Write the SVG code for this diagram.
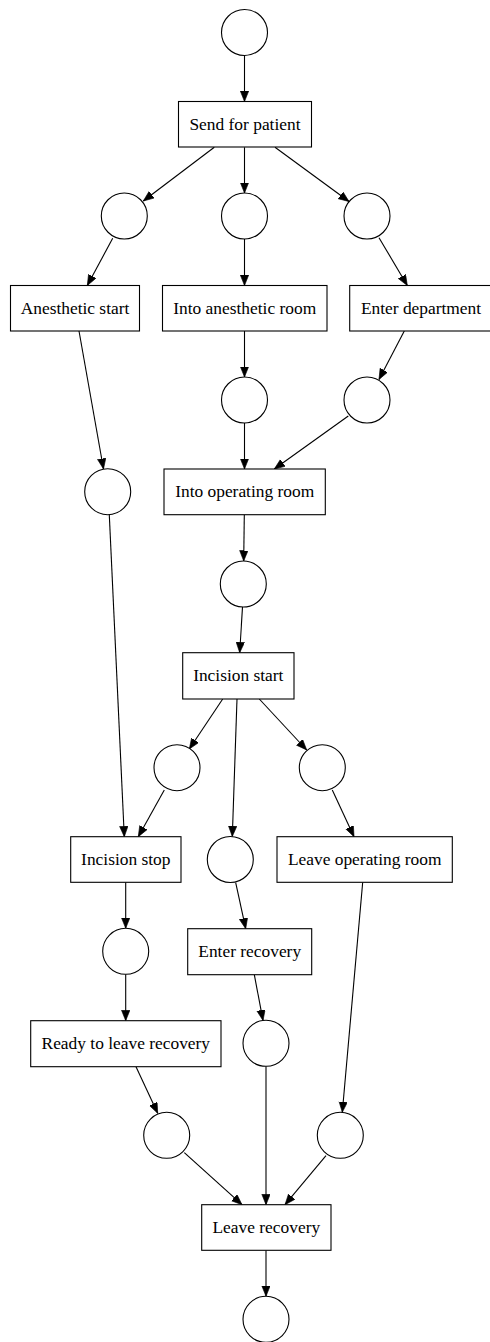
<svg xmlns="http://www.w3.org/2000/svg" width="490" height="1342" viewBox="0 0 490 1342">
<defs>
<marker id="ah" markerUnits="userSpaceOnUse" markerWidth="11" markerHeight="9" refX="10.5" refY="4.2" orient="auto"><path d="M0,0 L10.5,4.2 L0,8.4 z" fill="#000" stroke="#000" stroke-width="0.6"/></marker>
<style>
.p{fill:#fff;stroke:#000;stroke-width:1.1}
.t{fill:#fff;stroke:#000;stroke-width:1.1}
.l{font-family:"Liberation Serif","Times New Roman",serif;font-size:17.4px;fill:#000;text-anchor:middle}
.e{fill:none;stroke:#000;stroke-width:1.1;marker-end:url(#ah)}
</style>
</defs>
<rect width="490" height="1342" fill="#fff"/>
<g id="connectors">
<line class="e" x1="244.5" y1="55.5" x2="244.5" y2="101.5"/>
<line class="e" x1="214.3" y1="147.3" x2="143.3" y2="201"/>
<line class="e" x1="244.5" y1="147.3" x2="244.5" y2="193"/>
<line class="e" x1="275" y1="147.3" x2="349" y2="201.5"/>
<line class="e" x1="112.7" y1="238.3" x2="87.3" y2="285.5"/>
<line class="e" x1="244.5" y1="239" x2="244.5" y2="285.5"/>
<line class="e" x1="379" y1="237.7" x2="407.3" y2="285.5"/>
<line class="e" x1="79" y1="331" x2="103.5" y2="469"/>
<line class="e" x1="244.5" y1="331" x2="244.5" y2="377"/>
<line class="e" x1="404.3" y1="331" x2="379" y2="379.5"/>
<line class="e" x1="244.5" y1="423" x2="244.5" y2="469"/>
<line class="e" x1="348.3" y1="416" x2="274.3" y2="469"/>
<line class="e" x1="244.3" y1="514.7" x2="243.7" y2="561"/>
<line class="e" x1="242.5" y1="607" x2="239.7" y2="652.7"/>
<line class="e" x1="109.3" y1="515" x2="124.3" y2="836.7"/>
<line class="e" x1="222.7" y1="699" x2="189.3" y2="749"/>
<line class="e" x1="237" y1="699" x2="232.3" y2="836.5"/>
<line class="e" x1="259.3" y1="699" x2="306.7" y2="750"/>
<line class="e" x1="164.3" y1="790" x2="138.3" y2="836.7"/>
<line class="e" x1="332.3" y1="790" x2="354" y2="836.7"/>
<line class="e" x1="125.7" y1="882.3" x2="125.7" y2="928.3"/>
<line class="e" x1="235.7" y1="882.7" x2="245.7" y2="928.7"/>
<line class="e" x1="362.7" y1="882.3" x2="342.3" y2="1112.3"/>
<line class="e" x1="125.7" y1="974.3" x2="125.7" y2="1020.7"/>
<line class="e" x1="254.3" y1="974.7" x2="263" y2="1020.5"/>
<line class="e" x1="136" y1="1066.7" x2="157.7" y2="1113.3"/>
<line class="e" x1="266" y1="1066.3" x2="266" y2="1204.7"/>
<line class="e" x1="184.3" y1="1152.7" x2="242" y2="1204.7"/>
<line class="e" x1="326" y1="1155.7" x2="285" y2="1204.7"/>
<line class="e" x1="266" y1="1250.3" x2="266" y2="1296.3"/>
</g>
<g id="p_start"><circle class="p" cx="244.5" cy="32.5" r="23"/></g>
<g id="t_send"><rect class="t" x="178.5" y="101.5" width="133" height="45.5"/><text class="l" x="245" y="129.6">Send for patient</text></g>
<g id="p1"><circle class="p" cx="124.3" cy="216" r="23"/></g>
<g id="p2"><circle class="p" cx="244.5" cy="216" r="23"/></g>
<g id="p3"><circle class="p" cx="367" cy="216" r="23"/></g>
<g id="t_anes_start"><rect class="t" x="10.5" y="285.5" width="129" height="45.5"/><text class="l" x="75" y="313.5">Anesthetic start</text></g>
<g id="t_into_anes"><rect class="t" x="162.5" y="285.5" width="164.5" height="45.5"/><text class="l" x="244.7" y="313.5">Into anesthetic room</text></g>
<g id="t_enter_dept"><rect class="t" x="349.7" y="285.5" width="142.5" height="45.5"/><text class="l" x="421" y="313.5">Enter department</text></g>
<g id="p4"><circle class="p" cx="244.5" cy="400" r="23"/></g>
<g id="p5"><circle class="p" cx="367" cy="400" r="23"/></g>
<g id="p6"><circle class="p" cx="107.7" cy="491.7" r="23"/></g>
<g id="t_into_or"><rect class="t" x="164" y="469" width="161.3" height="45.7"/><text class="l" x="244.7" y="497.1">Into operating room</text></g>
<g id="p7"><circle class="p" cx="243.3" cy="584" r="23"/></g>
<g id="t_inc_start"><rect class="t" x="182.7" y="652.7" width="111.3" height="46.3"/><text class="l" x="238.3" y="681.1">Incision start</text></g>
<g id="p8"><circle class="p" cx="177" cy="767.7" r="23"/></g>
<g id="p9"><circle class="p" cx="322.3" cy="767.7" r="23"/></g>
<g id="t_inc_stop"><rect class="t" x="70.7" y="836.7" width="110.3" height="45.6"/><text class="l" x="125.8" y="864.8">Incision stop</text></g>
<g id="p10"><circle class="p" cx="230.3" cy="859.5" r="23"/></g>
<g id="t_leave_or"><rect class="t" x="277" y="836.7" width="175.3" height="45.6"/><text class="l" x="364.7" y="864.8">Leave operating room</text></g>
<g id="p11"><circle class="p" cx="125.7" cy="951.3" r="23"/></g>
<g id="t_enter_rec"><rect class="t" x="187.7" y="928.7" width="124" height="46"/><text class="l" x="249.7" y="957">Enter recovery</text></g>
<g id="t_ready"><rect class="t" x="30.7" y="1020.7" width="190.3" height="46"/><text class="l" x="125.8" y="1049">Ready to leave recovery</text></g>
<g id="p12"><circle class="p" cx="266" cy="1043.3" r="23"/></g>
<g id="p13"><circle class="p" cx="166.7" cy="1135.3" r="23"/></g>
<g id="p14"><circle class="p" cx="340.3" cy="1135.3" r="23"/></g>
<g id="t_leave_rec"><rect class="t" x="201.7" y="1204.7" width="129.3" height="45.6"/><text class="l" x="266.3" y="1232.8">Leave recovery</text></g>
<g id="p_end"><circle class="p" cx="266" cy="1319.3" r="23"/></g>
</svg>
